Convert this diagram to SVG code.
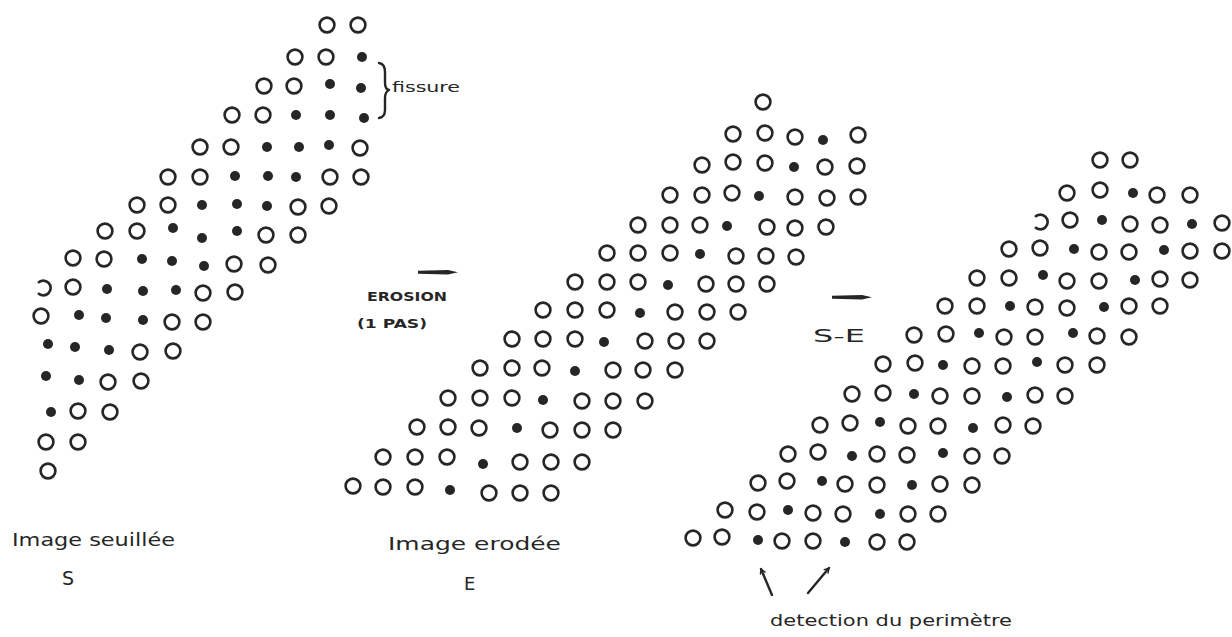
<svg xmlns="http://www.w3.org/2000/svg" xmlns:xlink="http://www.w3.org/1999/xlink" width="1232" height="637" viewBox="0 0 1232 637">
<style>
  .ring { fill: none; stroke: #262626; stroke-width: 2.6; }
  .pt { fill: #262626; }
  .hand { font-family: "DejaVu Sans", "Liberation Sans", sans-serif; fill: #262626; }
  .ink { fill: none; stroke: #262626; stroke-width: 2.4; stroke-linecap: round; stroke-linejoin: round; }
</style>
<defs>
  <circle id="o" cx="0" cy="0" r="7.4" class="ring"/>
  <circle id="d" cx="0" cy="0" r="5" class="pt"/>
  <marker id="ah" viewBox="0 0 10 10" refX="8" refY="5" markerWidth="7" markerHeight="7" orient="auto" markerUnits="userSpaceOnUse">
    <path d="M1,1 L8,5 L1,9" fill="none" stroke="#262626" stroke-width="2"/>
  </marker>
</defs>
<rect width="1232" height="637" fill="#ffffff"/>

<!-- Image seuillée S -->
<g id="pattern-S">
  <use href="#o" x="327" y="25"/><use href="#o" x="358" y="25"/>
  <use href="#o" x="295" y="57"/><use href="#o" x="326" y="57"/><use href="#d" x="362" y="57"/>
  <use href="#o" x="264" y="86"/><use href="#o" x="294" y="86"/><use href="#d" x="330" y="84"/><use href="#d" x="361" y="88"/>
  <use href="#o" x="232" y="115"/><use href="#o" x="263" y="115"/><use href="#d" x="296" y="115"/><use href="#d" x="330" y="115"/><use href="#d" x="364" y="118"/>
  <use href="#o" x="200" y="147"/><use href="#o" x="231" y="147"/><use href="#d" x="267" y="147"/><use href="#d" x="299" y="147"/><use href="#d" x="329" y="145"/><use href="#o" x="360" y="148"/>
  <use href="#o" x="168" y="177"/><use href="#o" x="200" y="177"/><use href="#d" x="235" y="176"/><use href="#d" x="268" y="176"/><use href="#d" x="296" y="177"/><use href="#o" x="330" y="177"/><use href="#o" x="361" y="177"/>
  <use href="#o" x="137" y="205"/><use href="#o" x="168" y="205"/><use href="#d" x="202" y="205"/><use href="#d" x="237" y="204"/><use href="#d" x="267" y="206"/><use href="#o" x="298" y="207"/><use href="#o" x="329" y="206"/>
  <use href="#o" x="105" y="231"/><use href="#o" x="137" y="231"/><use href="#d" x="173" y="228"/><use href="#d" x="202" y="238"/><use href="#d" x="237" y="231"/><use href="#o" x="266" y="235"/><use href="#o" x="298" y="235"/>
  <use href="#o" x="73" y="258"/><use href="#o" x="104" y="259"/><use href="#d" x="142" y="259"/><use href="#d" x="172" y="261"/><use href="#d" x="204" y="266"/><use href="#o" x="234" y="264"/><use href="#o" x="268" y="265"/>
  <path d="M38,282.8 A7.4,7.4 0 1 1 38,293.2" class="ring"/><use href="#o" x="73" y="287"/><use href="#d" x="107" y="289"/><use href="#d" x="143" y="291"/><use href="#d" x="176" y="290"/><use href="#o" x="203" y="293"/><use href="#o" x="235" y="292"/>
  <use href="#o" x="41" y="316"/><use href="#d" x="79" y="315"/><use href="#d" x="106" y="318"/><use href="#d" x="143" y="320"/><use href="#o" x="172" y="322"/><use href="#o" x="203" y="322"/>
  <use href="#d" x="48" y="344"/><use href="#d" x="75" y="347"/><use href="#d" x="109" y="350"/><use href="#o" x="140" y="352"/><use href="#o" x="173" y="351"/>
  <use href="#d" x="46" y="376"/><use href="#d" x="79" y="380"/><use href="#o" x="108" y="382"/><use href="#o" x="141" y="381"/>
  <use href="#d" x="51" y="412"/><use href="#o" x="78" y="411"/><use href="#o" x="110" y="412"/>
  <use href="#o" x="46" y="442"/><use href="#o" x="78" y="442"/>
  <use href="#o" x="48" y="471"/>
</g>

<g id="fissure-label">
  <path d="M379,63 Q385,64 385,72 L385,83 Q385,89 389,90 Q385,92 385,98 L385,110 Q385,117 379,118" class="ink" stroke-width="1.8"/>
  <text x="392" y="92" class="hand" font-size="14" textLength="68" lengthAdjust="spacingAndGlyphs">fissure</text>
</g>

<g id="label-S">
  <text x="12" y="546" class="hand" font-size="17" textLength="163" lengthAdjust="spacingAndGlyphs">Image seuillée</text>
  <text x="62" y="585" class="hand" font-size="19">S</text>
</g>

<!-- Image erodée E -->
<g id="pattern-E">
  <use href="#o" x="763" y="102"/>
  <use href="#o" x="733" y="134"/><use href="#o" x="765" y="133"/><use href="#o" x="795" y="137"/><use href="#d" x="823" y="140"/><use href="#o" x="858" y="135"/>
  <use href="#o" x="702" y="165"/><use href="#o" x="733" y="162"/><use href="#o" x="765" y="163"/><use href="#d" x="794" y="167"/><use href="#o" x="825" y="167"/><use href="#o" x="857" y="166"/>
  <use href="#o" x="670" y="195"/><use href="#o" x="702" y="195"/><use href="#o" x="732" y="193"/><use href="#d" x="759" y="196"/><use href="#o" x="795" y="197"/><use href="#o" x="827" y="198"/><use href="#o" x="858" y="197"/>
  <use href="#o" x="638" y="225"/><use href="#o" x="670" y="225"/><use href="#o" x="700" y="225"/><use href="#d" x="727" y="226"/><use href="#o" x="767" y="227"/><use href="#o" x="795" y="228"/><use href="#o" x="826" y="227"/>
  <use href="#o" x="607" y="253"/><use href="#o" x="638" y="253"/><use href="#o" x="670" y="253"/><use href="#d" x="700" y="254"/><use href="#o" x="736" y="256"/><use href="#o" x="766" y="256"/><use href="#o" x="796" y="257"/>
  <use href="#o" x="575" y="282"/><use href="#o" x="607" y="282"/><use href="#o" x="638" y="282"/><use href="#d" x="668" y="285"/><use href="#o" x="706" y="284"/><use href="#o" x="736" y="284"/><use href="#o" x="767" y="284"/>
  <use href="#o" x="543" y="310"/><use href="#o" x="575" y="310"/><use href="#o" x="607" y="310"/><use href="#d" x="640" y="313"/><use href="#o" x="675" y="312"/><use href="#o" x="707" y="312"/><use href="#o" x="738" y="312"/>
  <use href="#o" x="512" y="339"/><use href="#o" x="543" y="339"/><use href="#o" x="575" y="339"/><use href="#d" x="604" y="342"/><use href="#o" x="645" y="341"/><use href="#o" x="676" y="341"/><use href="#o" x="707" y="341"/>
  <use href="#o" x="480" y="368"/><use href="#o" x="512" y="368"/><use href="#o" x="542" y="368"/><use href="#d" x="575" y="371"/><use href="#o" x="613" y="370"/><use href="#o" x="643" y="370"/><use href="#o" x="675" y="370"/>
  <use href="#o" x="448" y="398"/><use href="#o" x="480" y="398"/><use href="#o" x="512" y="398"/><use href="#d" x="543" y="400"/><use href="#o" x="582" y="401"/><use href="#o" x="613" y="401"/><use href="#o" x="645" y="401"/>
  <use href="#o" x="417" y="427"/><use href="#o" x="448" y="427"/><use href="#o" x="479" y="428"/><use href="#d" x="517" y="428"/><use href="#o" x="550" y="430"/><use href="#o" x="582" y="430"/><use href="#o" x="613" y="430"/>
  <use href="#o" x="383" y="457"/><use href="#o" x="415" y="457"/><use href="#o" x="447" y="457"/><use href="#d" x="483" y="464"/><use href="#o" x="520" y="462"/><use href="#o" x="551" y="462"/><use href="#o" x="582" y="462"/>
  <use href="#o" x="353" y="486"/><use href="#o" x="383" y="487"/><use href="#o" x="415" y="487"/><use href="#d" x="450" y="490"/><use href="#o" x="489" y="493"/><use href="#o" x="520" y="493"/><use href="#o" x="551" y="493"/>
</g>

<g id="label-erosion">
  <text x="367" y="301" class="hand" font-size="12" font-weight="bold" textLength="80" lengthAdjust="spacingAndGlyphs">EROSION</text>
  <text x="357" y="328" class="hand" font-size="12" font-weight="bold" textLength="70" lengthAdjust="spacingAndGlyphs">(1 PAS)</text>
</g>

<g id="label-E">
  <text x="388" y="550" class="hand" font-size="17" textLength="173" lengthAdjust="spacingAndGlyphs">Image erodée</text>
  <text x="464" y="590" class="hand" font-size="18">E</text>
</g>

<!-- S-E -->
<g id="pattern-SE">
  <use href="#o" x="1100" y="160"/><use href="#o" x="1130" y="160"/>
  <use href="#o" x="1067" y="193"/><use href="#o" x="1100" y="190"/><use href="#d" x="1133" y="193"/><use href="#o" x="1157" y="195"/><use href="#o" x="1190" y="195"/>
  <path d="M1035,216.8 A7.4,7.4 0 1 1 1035,227.2" class="ring"/><use href="#o" x="1070" y="220"/><use href="#d" x="1102" y="220"/><use href="#o" x="1130" y="224"/><use href="#o" x="1160" y="225"/><use href="#d" x="1192" y="224"/><use href="#o" x="1222" y="223"/>
  <use href="#o" x="1009" y="249"/><use href="#o" x="1040" y="248"/><use href="#d" x="1074" y="249"/><use href="#o" x="1099" y="252"/><use href="#o" x="1129" y="252"/><use href="#d" x="1164" y="250"/><use href="#o" x="1190" y="251"/><use href="#o" x="1222" y="251"/>
  <use href="#o" x="977" y="278"/><use href="#o" x="1009" y="278"/><use href="#d" x="1043" y="275"/><use href="#o" x="1067" y="281"/><use href="#o" x="1099" y="281"/><use href="#d" x="1135" y="280"/><use href="#o" x="1160" y="279"/><use href="#o" x="1190" y="280"/>
  <use href="#o" x="945" y="306"/><use href="#o" x="977" y="306"/><use href="#d" x="1010" y="306"/><use href="#o" x="1035" y="307"/><use href="#o" x="1067" y="308"/><use href="#d" x="1104" y="307"/><use href="#o" x="1129" y="306"/><use href="#o" x="1160" y="306"/>
  <use href="#o" x="914" y="335"/><use href="#o" x="946" y="334"/><use href="#d" x="979" y="333"/><use href="#o" x="1004" y="337"/><use href="#o" x="1035" y="337"/><use href="#d" x="1073" y="333"/><use href="#o" x="1097" y="336"/><use href="#o" x="1129" y="337"/>
  <use href="#o" x="883" y="364"/><use href="#o" x="915" y="363"/><use href="#d" x="943" y="365"/><use href="#o" x="972" y="366"/><use href="#o" x="1003" y="366"/><use href="#d" x="1037" y="362"/><use href="#o" x="1065" y="365"/><use href="#o" x="1097" y="365"/>
  <use href="#o" x="852" y="394"/><use href="#o" x="883" y="393"/><use href="#d" x="914" y="394"/><use href="#o" x="940" y="396"/><use href="#o" x="972" y="396"/><use href="#d" x="1007" y="397"/><use href="#o" x="1035" y="395"/><use href="#o" x="1065" y="396"/>
  <use href="#o" x="820" y="425"/><use href="#o" x="850" y="423"/><use href="#d" x="880" y="422"/><use href="#o" x="908" y="426"/><use href="#o" x="938" y="426"/><use href="#d" x="973" y="428"/><use href="#o" x="1003" y="425"/><use href="#o" x="1033" y="426"/>
  <use href="#o" x="788" y="454"/><use href="#o" x="818" y="452"/><use href="#d" x="852" y="456"/><use href="#o" x="877" y="454"/><use href="#o" x="907" y="455"/><use href="#d" x="943" y="453"/><use href="#o" x="972" y="456"/><use href="#o" x="1002" y="456"/>
  <use href="#o" x="758" y="483"/><use href="#o" x="787" y="481"/><use href="#d" x="822" y="481"/><use href="#o" x="845" y="484"/><use href="#o" x="877" y="485"/><use href="#d" x="912" y="485"/><use href="#o" x="940" y="484"/><use href="#o" x="972" y="485"/>
  <use href="#o" x="725" y="510"/><use href="#o" x="757" y="512"/><use href="#d" x="788" y="510"/><use href="#o" x="813" y="513"/><use href="#o" x="843" y="514"/><use href="#d" x="880" y="514"/><use href="#o" x="908" y="514"/><use href="#o" x="938" y="514"/>
  <use href="#o" x="693" y="538"/><use href="#o" x="722" y="537"/><use href="#d" x="758" y="540"/><use href="#o" x="782" y="541"/><use href="#o" x="813" y="541"/><use href="#d" x="845" y="542"/><use href="#o" x="877" y="542"/><use href="#o" x="907" y="542"/>
</g>

<g id="label-SE">
  <text x="813" y="342" class="hand" font-size="18" textLength="52" lengthAdjust="spacingAndGlyphs">S-E</text>
  <text x="770" y="626" class="hand" font-size="16" textLength="242" lengthAdjust="spacingAndGlyphs">detection du perimètre</text>
</g>

<g id="connectors">
  <path d="M418,270.8 L448,270 L458,272.3 L448,274.5 L418,273.8 Z" fill="#262626"/>
  <path d="M832,295.8 L862,295 L872,297.3 L862,299.5 L832,298.8 Z" fill="#262626"/>
  <line x1="772" y1="595" x2="761" y2="569" class="ink" stroke-width="2.2" marker-end="url(#ah)"/>
  <line x1="808" y1="593" x2="829" y2="568" class="ink" stroke-width="2.2" marker-end="url(#ah)"/>
</g>
</svg>
